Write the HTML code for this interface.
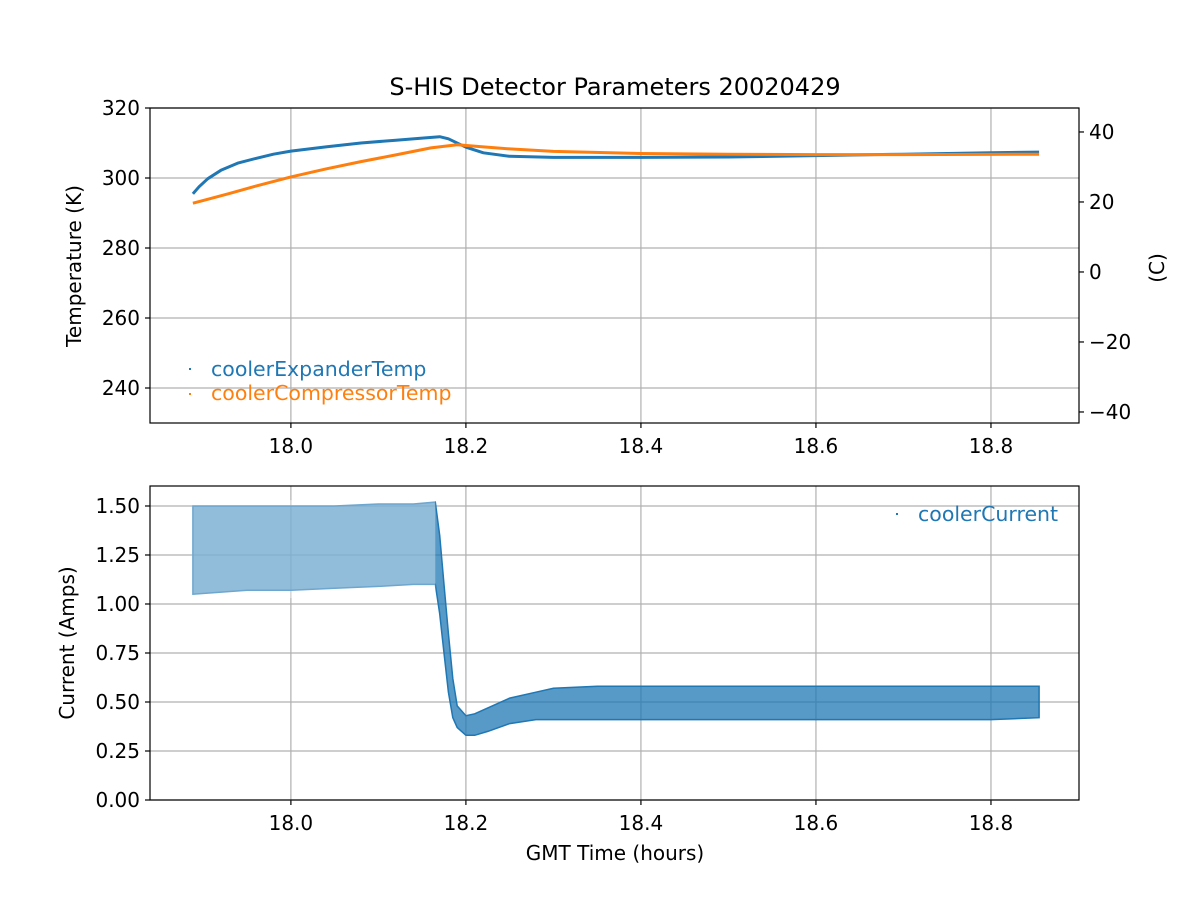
<!DOCTYPE html>
<html><head><meta charset="utf-8"><style>
body{margin:0;background:#fff}
svg{font-family:"DejaVu Sans","Liberation Sans",sans-serif}
</style></head><body>
<svg id="chart" width="1200" height="900" xmlns="http://www.w3.org/2000/svg">
<rect width="1200" height="900" fill="#fff"/>
<g id="topPanel"></g>
<g id="botPanel"></g>
</svg>
<script>
const xTicks=[18.0,18.2,18.4,18.6,18.8];
const yTicksTop=[240,260,280,300,320];
const yTicksRight=[-40,-20,0,20,40];
const yTicksBot=[0,0.25,0.5,0.75,1.0,1.25,1.5];
const expTime=[17.888,17.895,17.905,17.92,17.94,17.96,17.98,18.0,18.04,18.08,18.12,18.15,18.17,18.18,18.2,18.22,18.25,18.3,18.4,18.5,18.6,18.7,18.8,18.855];
const expTemp=[295.5,297.5,299.8,302.2,304.3,305.6,306.8,307.7,308.9,310.0,310.8,311.4,311.8,311.2,308.8,307.2,306.2,305.9,305.9,306.0,306.4,306.8,307.2,307.4];
const compTime=[17.888,17.9,17.93,17.96,18.0,18.04,18.08,18.12,18.16,18.19,18.22,18.25,18.3,18.4,18.5,18.6,18.7,18.855];
const compTemp=[292.8,293.6,295.6,297.7,300.3,302.6,304.7,306.6,308.6,309.5,308.9,308.3,307.6,307.0,306.8,306.7,306.7,306.8];
const curTime=[17.888,17.95,18.0,18.05,18.1,18.14,18.165,18.17,18.175,18.18,18.185,18.19,18.2,18.21,18.225,18.25,18.28,18.3,18.35,18.4,18.5,18.6,18.7,18.8,18.855];
const curLow=[1.05,1.07,1.07,1.08,1.09,1.10,1.10,0.95,0.75,0.55,0.42,0.37,0.33,0.33,0.35,0.39,0.41,0.41,0.41,0.41,0.41,0.41,0.41,0.41,0.42];
const curHigh=[1.50,1.50,1.50,1.50,1.51,1.51,1.52,1.35,1.10,0.85,0.62,0.48,0.43,0.44,0.47,0.52,0.55,0.57,0.58,0.58,0.58,0.58,0.58,0.58,0.58];
const NS="http://www.w3.org/2000/svg";
const L=150,R=1079,X0=17.839,X1=18.9006;
const xs=v=>L+(v-X0)/(X1-X0)*(R-L);
const T={t:108,b:423,y0:230,y1:320},B={t:486,b:800,y0:0,y1:1.602};
const ys=(p,v)=>p.b-(v-p.y0)/(p.y1-p.y0)*(p.b-p.t);
function mk(parent,tag,attrs,text){const e=document.createElementNS(NS,tag);for(const k in attrs)e.setAttribute(k,attrs[k]);if(text!==undefined)e.textContent=text;parent.appendChild(e);return e;}
function axes(g,p,yt,fmt){
  for(const t of xTicks){const x=xs(t);
    const gl=mk(g,'line',{x1:x,x2:x,y1:p.t,y2:p.b,stroke:'#b0b0b0','stroke-width':1.2});
    
    mk(g,'line',{x1:x,x2:x,y1:p.b,y2:p.b+5,stroke:'#000','stroke-width':1.2});
    const tl=mk(g,'text',{x:x,y:p.b+30,'text-anchor':'middle','font-size':20},t.toFixed(1));
    }
  for(const t of yt){const y=ys(p,t);
    const gl=mk(g,'line',{x1:L,x2:R,y1:y,y2:y,stroke:'#b0b0b0','stroke-width':1.2});
    
    mk(g,'line',{x1:L-5,x2:L,y1:y,y2:y,stroke:'#000','stroke-width':1.2});
    const tl=mk(g,'text',{x:L-10,y:y+7,'text-anchor':'end','font-size':20},fmt(t));
    }
}
function frame(g,p){const f=mk(g,'rect',{x:L,y:p.t,width:R-L,height:p.b-p.t,fill:'none',stroke:'#000','stroke-width':1.2});
  }
const topG=document.getElementById('topPanel'),botG=document.getElementById('botPanel');
axes(topG,T,yTicksTop,v=>String(v));
for(const c of yTicksRight){const y=ys(T,c+273.15);
  mk(topG,'line',{x1:R,x2:R+5,y1:y,y2:y,stroke:'#000','stroke-width':1.2});
  const tl=mk(topG,'text',{x:R+10,y:y+7,'font-size':20},c<0?'\u2212'+(-c):String(c));
  }
function line(g,xa,ya,p,color,name){
  const d=xa.map((t,i)=>(i?'L':'M')+xs(t).toFixed(1)+','+ys(p,ya[i]).toFixed(1)).join('');
  const e=mk(g,'path',{d:d,fill:'none',stroke:color,'stroke-width':3,'stroke-linejoin':'round'});
  }
line(topG,expTime,expTemp,T,'#1f77b4','cooler-expander-temp-series');
line(topG,compTime,compTemp,T,'#ff7f0e','cooler-compressor-temp-series');
frame(topG,T);
const ttl=mk(topG,'text',{x:615,y:95,'text-anchor':'middle','font-size':24},'S-HIS Detector Parameters 20020429');

const yl=mk(topG,'text',{x:81,y:266,'text-anchor':'middle','font-size':20,transform:'rotate(-90 81 266)'},'Temperature (K)');

const yr=mk(topG,'text',{x:1164,y:268,'text-anchor':'middle','font-size':20,transform:'rotate(-90 1164 268)'},'(C)');

mk(topG,'rect',{x:189,y:368,width:2,height:2,fill:'#1f77b4'});
const le1=mk(topG,'text',{x:211,y:376,'font-size':20.5,fill:'#1f77b4'},'coolerExpanderTemp');

mk(topG,'rect',{x:189,y:393,width:2,height:2,fill:'#ff7f0e'});
const le2=mk(topG,'text',{x:211,y:400,'font-size':20.5,fill:'#ff7f0e'},'coolerCompressorTemp');


axes(botG,B,yTicksBot,v=>v.toFixed(2));
let pts=curTime.map((t,i)=>xs(t).toFixed(1)+','+ys(B,curHigh[i]).toFixed(1));
for(let i=curTime.length-1;i>=0;i--)pts.push(xs(curTime[i]).toFixed(1)+','+ys(B,curLow[i]).toFixed(1));
const band=mk(botG,'polygon',{points:pts.join(' '),fill:'#1f77b4','fill-opacity':0.75,stroke:'#1f77b4','stroke-width':1.5});

// lighten the sparse pre-drop region
const cover=mk(botG,'rect',{x:xs(curTime[0])-1,y:ys(B,1.53),width:xs(18.165)-xs(curTime[0])+1,height:ys(B,1.03)-ys(B,1.53),fill:'#fff','fill-opacity':0.35});

frame(botG,B);
const yb=mk(botG,'text',{x:74,y:643,'text-anchor':'middle','font-size':20,transform:'rotate(-90 74 643)'},'Current (Amps)');

const xt=mk(botG,'text',{x:615,y:860,'text-anchor':'middle','font-size':20},'GMT Time (hours)');

mk(botG,'rect',{x:896,y:513,width:2,height:2,fill:'#1f77b4'});
const le3=mk(botG,'text',{x:918,y:521,'font-size':20.5,fill:'#1f77b4'},'coolerCurrent');

</script>
</body></html>
